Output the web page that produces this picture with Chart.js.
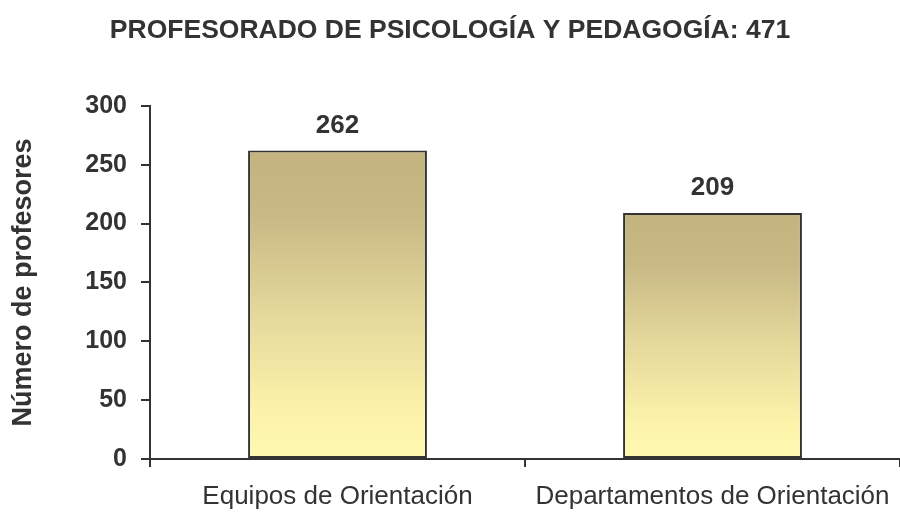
<!DOCTYPE html>
<html>
<head>
<meta charset="utf-8">
<script src="https://cdn.jsdelivr.net/npm/chart.js@4/dist/chart.umd.min.js"></script>
<style>
  html, body { margin: 0; padding: 0; background: #fff; }
  #wrap { width: 900px; height: 512px; }
</style>
</head>
<body>
<div id="wrap"><canvas id="chart"></canvas></div>
<script>
const categories = ['Equipos de Orientación', 'Departamentos de Orientación'];
const profesores = [262, 209];
const yTicks = [0, 50, 100, 150, 200, 250, 300];
const chartTitle = 'PROFESORADO DE PSICOLOGÍA Y PEDAGOGÍA: 471';
const yTitle = 'Número de profesores';

const textColor = '#333';
const fontFamily = '"Liberation Sans", Arial, sans-serif';

// degradado por barra: tostado arriba, amarillo claro abajo
function barGradient(context) {
    const chart = context.chart;
    if (!chart.chartArea || context.type !== 'data') return '#C3B47F';
    const y = chart.scales.y;
    const top = y.getPixelForValue(context.raw);
    const bottom = y.getPixelForValue(0);
    const g = chart.ctx.createLinearGradient(0, top, 0, bottom);
    g.addColorStop(0, '#C3B47F');
    g.addColorStop(0.2, '#C7B884');
    g.addColorStop(0.55, '#E6DA9C');
    g.addColorStop(0.85, '#FBF3AA');
    g.addColorStop(1, '#FFF8B0');
    return g;
}

// etiquetas de valor encima de cada barra
const valueLabels = {
    id: 'valueLabels',
    afterDatasetsDraw(chart) {
        const ctx = chart.ctx;
        const meta = chart.getDatasetMeta(0);
        ctx.save();
        ctx.font = 'bold 26px ' + fontFamily;
        ctx.fillStyle = textColor;
        ctx.textAlign = 'center';
        ctx.textBaseline = 'alphabetic';
        meta.data.forEach((bar, i) => {
            ctx.fillText(String(profesores[i]), bar.x, bar.y - 18);
        });
        ctx.restore();
    }
};

const ctx = document.getElementById('chart').getContext('2d');
new Chart(ctx, {
    type: 'bar',
    data: {
        labels: categories,
        datasets: [{
            data: profesores,
            backgroundColor: barGradient,
            borderColor: '#333',
            borderWidth: 2,
            borderSkipped: false,
            barPercentage: 0.477,
            categoryPercentage: 1
        }]
    },
    options: {
        responsive: true,
        maintainAspectRatio: false,
        animation: false,
        layout: { padding: { left: 0, right: 0, top: 0, bottom: 0 } },
        plugins: {
            legend: { display: false },
            tooltip: { enabled: false },
            title: {
                display: true,
                text: chartTitle,
                color: textColor,
                font: { family: fontFamily, size: 26.5, weight: 'bold' },
                padding: { top: 15, bottom: 59 }
            }
        },
        scales: {
            y: {
                min: 0,
                max: 300,
                afterBuildTicks: scale => {
                    scale.ticks = yTicks.map(v => ({ value: v }));
                },
                afterFit: scale => { scale.width = 150; },
                border: { color: '#333', width: 2 },
                grid: {
                    drawOnChartArea: false,
                    drawTicks: true,
                    tickLength: 9,
                    color: '#333',
                    lineWidth: 2
                },
                ticks: {
                    color: textColor,
                    padding: 14,
                    font: { family: fontFamily, size: 25, weight: 'bold' }
                },
                title: {
                    display: true,
                    text: yTitle,
                    color: textColor,
                    padding: { top: 7, bottom: 0 },
                    font: { family: fontFamily, size: 27, weight: 'bold' }
                }
            },
            x: {
                offset: true,
                afterFit: scale => {
                    scale.height = 512 - 459;
                    scale.paddingLeft = 0;
                    scale.paddingRight = 0;
                },
                border: { color: '#333', width: 2 },
                grid: {
                    offset: true,
                    drawOnChartArea: false,
                    drawTicks: true,
                    tickLength: 8,
                    color: '#333',
                    lineWidth: 2
                },
                ticks: {
                    color: textColor,
                    padding: 14,
                    maxRotation: 0,
                    autoSkip: false,
                    font: { family: fontFamily, size: 26 }
                }
            }
        }
    },
    plugins: [valueLabels]
});
</script>
</body>
</html>
